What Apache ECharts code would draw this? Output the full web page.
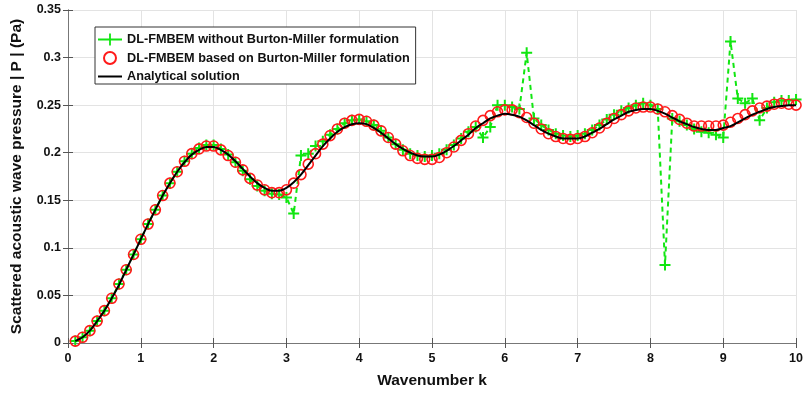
<!DOCTYPE html>
<html>
<head>
<meta charset="utf-8">
<script src="https://cdn.jsdelivr.net/npm/echarts@6/dist/echarts.min.js"></script>
<style>html,body{margin:0;padding:0;background:#fff}#c{width:806px;height:394px}</style>
</head>
<body>
<div id="c"></div>
<script>
var wavenumbers = [0.1,0.2,0.3,0.4,0.5,0.6,0.7,0.8,0.9,1.0,1.1,1.2,1.3,1.4,1.5,1.6,1.7,1.8,1.9,2.0,2.1,2.2,2.3,2.4,2.5,2.6,2.7,2.8,2.9,3.0,3.1,3.2,3.3,3.4,3.5,3.6,3.7,3.8,3.9,4.0,4.1,4.2,4.3,4.4,4.5,4.6,4.7,4.8,4.9,5.0,5.1,5.2,5.3,5.4,5.5,5.6,5.7,5.8,5.9,6.0,6.1,6.2,6.3,6.4,6.5,6.6,6.7,6.8,6.9,7.0,7.1,7.2,7.3,7.4,7.5,7.6,7.7,7.8,7.9,8.0,8.1,8.2,8.3,8.4,8.5,8.6,8.7,8.8,8.9,9.0,9.1,9.2,9.3,9.4,9.5,9.6,9.7,9.8,9.9,10.0];

var withoutBM = [0.002,0.006,0.013,0.023,0.034,0.047,0.062,0.077,0.093,0.109,0.125,0.140,0.155,0.168,0.180,0.191,0.199,0.205,0.208,0.208,0.204,0.198,0.190,0.181,0.172,0.165,0.160,0.157,0.156,0.153,0.136,0.197,0.199,0.207,0.212,0.219,0.225,0.231,0.234,0.235,0.233,0.229,0.223,0.216,0.209,0.203,0.199,0.197,0.196,0.197,0.199,0.203,0.208,0.215,0.222,0.227,0.216,0.227,0.250,0.250,0.248,0.246,0.305,0.236,0.229,0.224,0.220,0.218,0.217,0.218,0.220,0.224,0.229,0.235,0.240,0.244,0.247,0.250,0.252,0.250,0.246,0.082,0.236,0.233,0.229,0.225,0.222,0.221,0.219,0.216,0.317,0.257,0.252,0.257,0.234,0.247,0.253,0.255,0.255,0.256];

var withBM = [0.002,0.006,0.013,0.023,0.034,0.047,0.062,0.077,0.093,0.109,0.125,0.140,0.155,0.168,0.180,0.191,0.199,0.204,0.207,0.207,0.203,0.197,0.190,0.182,0.173,0.166,0.161,0.158,0.158,0.161,0.168,0.177,0.188,0.199,0.209,0.218,0.225,0.231,0.234,0.235,0.233,0.229,0.223,0.216,0.209,0.202,0.197,0.194,0.193,0.193,0.195,0.200,0.206,0.213,0.220,0.228,0.234,0.239,0.243,0.245,0.245,0.242,0.237,0.231,0.225,0.220,0.217,0.215,0.214,0.215,0.217,0.221,0.226,0.231,0.236,0.240,0.244,0.247,0.248,0.248,0.246,0.243,0.239,0.235,0.231,0.228,0.228,0.228,0.228,0.229,0.232,0.236,0.240,0.244,0.247,0.249,0.251,0.252,0.251,0.250];

var analytical = [0.002,0.006,0.013,0.023,0.034,0.047,0.061,0.077,0.093,0.109,0.125,0.140,0.155,0.168,0.180,0.190,0.198,0.203,0.206,0.206,0.203,0.198,0.191,0.183,0.175,0.168,0.163,0.160,0.160,0.163,0.169,0.177,0.187,0.197,0.207,0.215,0.222,0.227,0.230,0.231,0.230,0.226,0.221,0.215,0.209,0.204,0.200,0.197,0.196,0.196,0.198,0.202,0.207,0.213,0.219,0.226,0.231,0.236,0.239,0.241,0.240,0.238,0.234,0.229,0.224,0.220,0.217,0.215,0.215,0.215,0.217,0.221,0.225,0.230,0.235,0.239,0.243,0.245,0.246,0.246,0.244,0.241,0.237,0.233,0.230,0.227,0.225,0.224,0.224,0.226,0.228,0.232,0.236,0.240,0.243,0.246,0.248,0.249,0.250,0.250];

var xTicks = [0,1,2,3,4,5,6,7,8,9,10];
var yTicks = [0,0.05,0.1,0.15,0.2,0.25,0.3,0.35];

function pairs(vals){ return wavenumbers.map(function(k,i){ return [k, vals[i]]; }); }

var FONT = '"Liberation Sans", Arial, Helvetica, sans-serif';
var plusPath = 'path://M4.5,0h2v4.5h4.5v2h-4.5v4.5h-2v-4.5h-4.5v-2h4.5z';
var green = '#11e611';

var chart = echarts.init(document.getElementById('c'), null, {renderer:'canvas'});
chart.setOption({
  animation: false,
  backgroundColor: '#ffffff',
  textStyle: {fontFamily: FONT},
  grid: {left: 68, right: 9, top: 10, bottom: 47, containLabel: false},
  legend: {
    orient: 'vertical', left: 95, top: 27,
    padding: [6, 6, 1, 3], itemGap: 5, itemWidth: 24, itemHeight: 12,
    borderColor: '#333', borderWidth: 1, backgroundColor: '#fff',
    textStyle: {fontFamily: FONT, fontWeight: 'bold', fontSize: 12.7, color: '#111', lineHeight: 12},
    data: [
      {name: 'DL-FMBEM without Burton-Miller formulation',
       icon: 'path://M0,5.1h24v1.8h-24z M11.1,0h1.8v12h-1.8z',
       itemStyle: {color: green, borderWidth: 0}},
      {name: 'DL-FMBEM based on Burton-Miller formulation'},
      {name: 'Analytical solution', icon: 'path://M0,0h24v2h-24z',
       itemStyle: {color: '#000', borderWidth: 0}}
    ]
  },
  xAxis: [{
    type: 'value', min: xTicks[0], max: xTicks[xTicks.length-1], interval: 1,
    name: 'Wavenumber k', nameLocation: 'middle', nameGap: 30,
    nameTextStyle: {fontFamily: FONT, fontWeight: 'bold', fontSize: 15.5, color: '#111'},
    axisLine: {show: true, lineStyle: {color: '#777', width: 1}},
    axisTick: {show: true, inside: true, length: 5, lineStyle: {color: '#555'}},
    axisLabel: {fontFamily: FONT, fontWeight: 'bold', fontSize: 12.5, color: '#111', margin: 9},
    splitLine: {show: true, lineStyle: {color: '#e3e3e3', width: 1}}
  },{
    type: 'value', position: 'top', min: xTicks[0], max: xTicks[xTicks.length-1], interval: 1,
    axisLine: {show: true, lineStyle: {color: '#777', width: 1}},
    axisTick: {show: true, inside: true, length: 5, lineStyle: {color: '#555'}},
    axisLabel: {show: false}, splitLine: {show: false}
  }],
  yAxis: [{
    type: 'value', min: yTicks[0], max: yTicks[yTicks.length-1], interval: 0.05,
    name: 'Scattered acoustic wave pressure | P | (Pa)', nameLocation: 'middle', nameGap: 43,
    nameTextStyle: {fontFamily: FONT, fontWeight: 'bold', fontSize: 15.5, color: '#111'},
    axisLine: {show: true, lineStyle: {color: '#777', width: 1}},
    axisTick: {show: true, inside: true, length: 5, lineStyle: {color: '#555'}},
    axisLabel: {fontFamily: FONT, fontWeight: 'bold', fontSize: 12.5, color: '#111', margin: 7},
    splitLine: {show: true, lineStyle: {color: '#e3e3e3', width: 1}}
  },{
    type: 'value', position: 'right', min: yTicks[0], max: yTicks[yTicks.length-1], interval: 0.05,
    axisLine: {show: true, lineStyle: {color: '#777', width: 1}},
    axisTick: {show: true, inside: true, length: 5, lineStyle: {color: '#555'}},
    axisLabel: {show: false}, splitLine: {show: false}
  }],
  series: [
    {
      name: 'DL-FMBEM without Burton-Miller formulation', type: 'line', z: 2,
      data: pairs(withoutBM), symbol: plusPath, symbolSize: 11, showSymbol: true,
      lineStyle: {color: green, width: 2, type: [5, 4]},
      itemStyle: {color: green, borderWidth: 0}
    },
    {
      name: 'DL-FMBEM based on Burton-Miller formulation', type: 'scatter', z: 3,
      data: pairs(withBM), symbol: 'circle', symbolSize: 10,
      itemStyle: {color: 'rgba(0,0,0,0)', borderColor: '#ff1a1a', borderWidth: 1.6, opacity: 1}
    },
    {
      name: 'Analytical solution', type: 'line', z: 4,
      data: pairs(analytical), symbol: 'none', showSymbol: false, smooth: 0.3,
      lineStyle: {color: '#000', width: 2},
      itemStyle: {color: '#000'}
    }
  ]
});
</script>
</body>
</html>
